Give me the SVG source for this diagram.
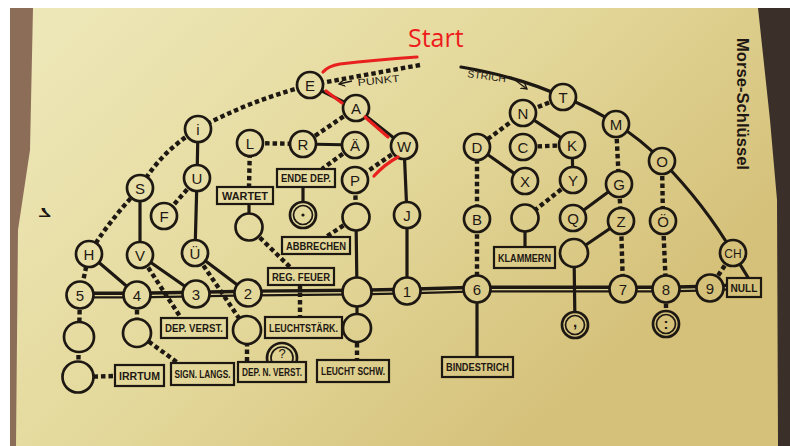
<svg xmlns="http://www.w3.org/2000/svg" width="790" height="446" viewBox="0 0 790 446">
<defs>
<linearGradient id="paper" gradientUnits="userSpaceOnUse" x1="100" y1="0" x2="520" y2="446">
<stop offset="0" stop-color="#ede6b6"/>
<stop offset="0.5" stop-color="#e4d99c"/>
<stop offset="1" stop-color="#d5c17a"/>
</linearGradient>
<marker id="arr" markerWidth="8" markerHeight="8" refX="6" refY="4" orient="auto" markerUnits="userSpaceOnUse">
<path d="M0,0.5 L6,4 L0,7.5" fill="none" stroke="#1e1813" stroke-width="1.3"/>
</marker>
</defs>
<style>
.sol{stroke:#1e1813;stroke-width:3.2;fill:none;stroke-linecap:round}
.dot{stroke:#1e1813;stroke-width:4.4;stroke-dasharray:4.5 3;fill:none}
.nd circle{fill:url(#paper);stroke:#1e1813;stroke-width:2.7}
.nd circle.in{stroke-width:1.7}
.nd text{font-family:"Liberation Sans",Arial,sans-serif;font-size:15px;fill:#1e1813;text-anchor:middle}
.bx rect{fill:url(#paper);stroke:#1e1813;stroke-width:2.2}
.bx text{font-family:"Liberation Sans",Arial,sans-serif;font-size:10.5px;font-weight:bold;fill:#1e1813;text-anchor:middle}
.lab{font-family:"Liberation Sans",Arial,sans-serif;fill:#1e1813}
.red{stroke:#e8201e;stroke-width:3.2;fill:none;stroke-linecap:round}
</style>

<!-- photo background -->
<rect x="0" y="0" width="790" height="446" fill="#ffffff"/>
<polygon points="10,8 40,8 24,446 10,446" fill="#8c6d57"/>
<polygon points="750,8 790,8 790,446 770,446" fill="#3a3029"/>
<polygon points="33,8 758,8 770,120 777,200 778,446 16,446 18,230 30,150" fill="url(#paper)"/>

<!-- annotations -->
<text class="lab" transform="translate(737,38) rotate(90)" font-size="16.5" font-weight="bold" textLength="132" lengthAdjust="spacingAndGlyphs">Morse-Schlüssel</text>
<text class="lab" transform="translate(38,208) scale(1.6,-0.9)" font-size="15" font-weight="bold">7</text>
<text class="lab" transform="translate(358,86) rotate(-6)" font-size="10" textLength="42" lengthAdjust="spacingAndGlyphs">PUNKT</text>
<path d="M352,81 L339,84" stroke="#1e1813" stroke-width="1.3" fill="none" marker-end="url(#arr)"/>
<text class="lab" transform="translate(467,77) rotate(8)" font-size="10" textLength="39" lengthAdjust="spacingAndGlyphs">STRICH</text>
<path d="M511,77 L527,89" stroke="#1e1813" stroke-width="1.3" fill="none" marker-end="url(#arr)"/>

<!-- connectors -->
<g id="connectors">
<!-- main double line -->
<path d="M80,295 L137,295 L196,294 L248,293 L357,292 L407,291 L477,289 L623,289 L666,289 L710,288 L728,287" stroke="#1e1813" stroke-width="7" fill="none"/>
<path d="M80,295.6 L137,295.6 L196,294.6 L248,293.6 L357,292.6 L407,291.6 L477,289.6 L623,289.6 L666,289.6 L710,288.6 L728,287.6" stroke="#e2d698" stroke-width="1.4" fill="none"/>
<!-- PUNKT arc -->
<path class="dot" d="M420,65 L310,85 Q245,102 198,129 Q160,152 140,188 Q108,222 89,254 L80,295"/>
<!-- STRICH arc -->
<path class="sol" d="M461,67 Q520,77 563,97 Q592,108 616,124 Q642,140 662,161 Q705,205 733,253 L749,279"/>
<!-- solid -->
<path class="sol" d="M310,85 L356,108 L404,146 L407,215 L407,291"/>
<path class="sol" d="M303,144 L355,145"/>
<path class="sol" d="M198,129 L197,178 L195,253 L248,293"/>
<path class="sol" d="M140,188 L140,255 L196,294"/>
<path class="sol" d="M89,254 L137,295"/>
<path class="sol" d="M303,187 L303,215"/>
<path class="sol" d="M249,204 L249,227"/>
<path class="sol" d="M356,217 L357,292 L357,328"/>
<path class="sol" d="M523,113 L572,145 L573,180"/>
<path class="sol" d="M477,147 L525,181"/>
<path class="sol" d="M477,289 L477,357"/>
<path class="sol" d="M525,218 L525,247"/>
<path class="sol" d="M619,184 L573,218"/>
<path class="sol" d="M621,221 L574,253 L575,325"/>
<!-- dotted -->
<path class="dot" d="M356,108 L303,144 L250,143 L249,187"/>
<path class="dot" d="M355,145 L322,169"/>
<path class="dot" d="M404,146 L355,180 L356,217"/>
<path class="dot" d="M356,217 L326,237"/>
<path class="dot" d="M249,227 L293,270"/>
<path class="dot" d="M300,285 L300,317"/>
<path class="dot" d="M197,178 L164,216"/>
<path class="dot" d="M140,255 L181,318"/>
<path class="dot" d="M195,253 L247,330 L247,362"/>
<path class="dot" d="M357,328 L357,360"/>
<path class="dot" d="M137,295 L137,333 L178,363"/>
<path class="dot" d="M80,295 L79,337 L78,377 L115,376"/>
<path class="dot" d="M563,97 L523,113 L477,147 L477,219 L477,289"/>
<path class="dot" d="M572,145 L523,147"/>
<path class="dot" d="M573,180 L525,218"/>
<path class="dot" d="M616,124 L619,184 L621,221 L623,289"/>
<path class="dot" d="M662,161 L663,221 L666,289 L666,324"/>
<path class="dot" d="M733,253 L710,288"/>
</g>

<!-- letter / number nodes -->
<g id="n-E" class="nd"><circle cx="310" cy="85" r="13"/><text x="310" y="90.5">E</text></g>
<g id="n-A" class="nd"><circle cx="356" cy="108" r="13"/><text x="356" y="113.5">A</text></g>
<g id="n-i" class="nd"><circle cx="198" cy="129" r="13"/><text x="198" y="134.5">i</text></g>
<g id="n-L" class="nd"><circle cx="250" cy="143" r="13"/><text x="250" y="148.5">L</text></g>
<g id="n-R" class="nd"><circle cx="303" cy="144" r="13"/><text x="303" y="149.5">R</text></g>
<g id="n-AE" class="nd"><circle cx="355" cy="145" r="13"/><text x="355" y="150.5">Ä</text></g>
<g id="n-W" class="nd"><circle cx="404" cy="146" r="13"/><text x="404" y="151.5">W</text></g>
<g id="n-P" class="nd"><circle cx="355" cy="180" r="13"/><text x="355" y="185.5">P</text></g>
<g id="n-U" class="nd"><circle cx="197" cy="178" r="13"/><text x="197" y="183.5">U</text></g>
<g id="n-S" class="nd"><circle cx="140" cy="188" r="13"/><text x="140" y="193.5">S</text></g>
<g id="n-F" class="nd"><circle cx="164" cy="216" r="13"/><text x="164" y="221.5">F</text></g>
<g id="n-J" class="nd"><circle cx="407" cy="215" r="13"/><text x="407" y="220.5">J</text></g>
<g id="n-H" class="nd"><circle cx="89" cy="254" r="13"/><text x="89" y="259.5">H</text></g>
<g id="n-V" class="nd"><circle cx="140" cy="255" r="13"/><text x="140" y="260.5">V</text></g>
<g id="n-UE" class="nd"><circle cx="195" cy="253" r="13"/><text x="195" y="258.5">Ü</text></g>
<g id="n-5" class="nd"><circle cx="80" cy="295" r="13.5"/><text x="80" y="300.5">5</text></g>
<g id="n-4" class="nd"><circle cx="137" cy="295" r="13.5"/><text x="137" y="300.5">4</text></g>
<g id="n-3" class="nd"><circle cx="196" cy="294" r="13.5"/><text x="196" y="299.5">3</text></g>
<g id="n-2" class="nd"><circle cx="248" cy="293" r="13.5"/><text x="248" y="298.5">2</text></g>
<g id="n-big" class="nd"><circle cx="357" cy="292" r="14.5"/></g>
<g id="n-1" class="nd"><circle cx="407" cy="291" r="13.5"/><text x="407" y="296.5">1</text></g>
<g id="n-wartet" class="nd"><circle cx="249" cy="227" r="13.5"/></g>
<g id="n-abbr" class="nd"><circle cx="356" cy="217" r="13.5"/></g>
<g id="n-dot" class="nd"><circle cx="303" cy="215" r="13"/><circle class="in" cx="303" cy="215" r="9.5"/><circle cx="303" cy="215" r="1.6" style="fill:#1e1813;stroke:none"/></g>
<g id="n-e2" class="nd"><circle cx="247" cy="330" r="14"/></g>
<g id="n-e3" class="nd"><circle cx="357" cy="328" r="14"/></g>
<g id="n-e4" class="nd"><circle cx="137" cy="333" r="14"/></g>
<g id="n-e5a" class="nd"><circle cx="79" cy="337" r="15"/></g>
<g id="n-e5b" class="nd"><circle cx="78" cy="377" r="15.5"/></g>
<g id="n-T" class="nd"><circle cx="563" cy="97" r="13"/><text x="563" y="102.5">T</text></g>
<g id="n-N" class="nd"><circle cx="523" cy="113" r="13"/><text x="523" y="118.5">N</text></g>
<g id="n-M" class="nd"><circle cx="616" cy="124" r="13"/><text x="616" y="129.5">M</text></g>
<g id="n-D" class="nd"><circle cx="477" cy="147" r="13"/><text x="477" y="152.5">D</text></g>
<g id="n-C" class="nd"><circle cx="523" cy="147" r="13"/><text x="523" y="152.5">C</text></g>
<g id="n-K" class="nd"><circle cx="572" cy="145" r="13"/><text x="572" y="150.5">K</text></g>
<g id="n-O" class="nd"><circle cx="662" cy="161" r="13"/><text x="662" y="166.5">O</text></g>
<g id="n-X" class="nd"><circle cx="525" cy="181" r="13"/><text x="525" y="186.5">X</text></g>
<g id="n-Y" class="nd"><circle cx="573" cy="180" r="13"/><text x="573" y="185.5">Y</text></g>
<g id="n-G" class="nd"><circle cx="619" cy="184" r="13"/><text x="619" y="189.5">G</text></g>
<g id="n-B" class="nd"><circle cx="477" cy="219" r="13"/><text x="477" y="224.5">B</text></g>
<g id="n-klam" class="nd"><circle cx="525" cy="218" r="13.5"/></g>
<g id="n-Q" class="nd"><circle cx="573" cy="218" r="13"/><text x="573" y="223.5">Q</text></g>
<g id="n-Z" class="nd"><circle cx="621" cy="221" r="13"/><text x="621" y="226.5">Z</text></g>
<g id="n-OE" class="nd"><circle cx="663" cy="221" r="13"/><text x="663" y="226.5">Ö</text></g>
<g id="n-ecomma" class="nd"><circle cx="574" cy="253" r="14"/></g>
<g id="n-CH" class="nd"><circle cx="733" cy="253" r="13"/><text x="733" y="257.5" style="font-size:12px">CH</text></g>
<g id="n-6" class="nd"><circle cx="477" cy="289" r="13.5"/><text x="477" y="294.5">6</text></g>
<g id="n-7" class="nd"><circle cx="623" cy="289" r="13.5"/><text x="623" y="294.5">7</text></g>
<g id="n-8" class="nd"><circle cx="666" cy="289" r="13.5"/><text x="666" y="294.5">8</text></g>
<g id="n-9" class="nd"><circle cx="710" cy="288" r="13.5"/><text x="710" y="293.5">9</text></g>
<g id="n-comma" class="nd"><circle cx="575" cy="325" r="13"/><circle class="in" cx="575" cy="325" r="9.5"/><text x="575" y="327" style="font-weight:bold">,</text></g>
<g id="n-colon" class="nd"><circle cx="666" cy="324" r="13"/><circle class="in" cx="666" cy="324" r="9.5"/><text x="666" y="329" style="font-weight:bold">:</text></g>
<g id="n-q" class="nd"><circle cx="282" cy="358" r="15"/><circle class="in" cx="282" cy="358" r="11"/><text x="282" y="358" style="font-size:13px">?</text></g>

<!-- label boxes -->
<g id="b-wartet" class="bx"><rect x="217" y="187" width="56" height="17"/><text x="245" y="199.5" textLength="46" lengthAdjust="spacingAndGlyphs">WARTET</text></g>
<g id="b-endedep" class="bx"><rect x="277" y="169" width="58" height="18"/><text x="306" y="182" textLength="50" lengthAdjust="spacingAndGlyphs">ENDE DEP.</text></g>
<g id="b-abbrechen" class="bx"><rect x="282" y="237" width="68" height="17"/><text x="316" y="249.5" textLength="60" lengthAdjust="spacingAndGlyphs">ABBRECHEN</text></g>
<g id="b-regfeuer" class="bx"><rect x="268" y="268" width="66" height="17"/><text x="301" y="280.5" textLength="58" lengthAdjust="spacingAndGlyphs">REG. FEUER</text></g>
<g id="b-depverst" class="bx"><rect x="161" y="318" width="66" height="20"/><text x="194" y="332" textLength="58" lengthAdjust="spacingAndGlyphs">DEP. VERST.</text></g>
<g id="b-leuchtstaerk" class="bx"><rect x="265" y="317" width="77" height="21"/><text x="303.5" y="331.5" textLength="69" lengthAdjust="spacingAndGlyphs">LEUCHTSTÄRK.</text></g>
<g id="b-irrtum" class="bx"><rect x="115" y="365" width="49" height="21"/><text x="139.5" y="379.5" textLength="41" lengthAdjust="spacingAndGlyphs">IRRTUM</text></g>
<g id="b-signlangs" class="bx"><rect x="171" y="363" width="63" height="22"/><text x="202.5" y="378" textLength="56" lengthAdjust="spacingAndGlyphs">SIGN. LANGS.</text></g>
<g id="b-depnverst" class="bx"><rect x="238" y="362" width="68" height="20"/><text x="272" y="376" textLength="60" lengthAdjust="spacingAndGlyphs">DEP. N. VERST.</text></g>
<g id="b-leuchtschw" class="bx"><rect x="317" y="360" width="72" height="22"/><text x="353" y="375" textLength="64" lengthAdjust="spacingAndGlyphs">LEUCHT SCHW.</text></g>
<g id="b-klammern" class="bx"><rect x="494" y="247" width="61" height="21"/><text x="524.5" y="261.5" textLength="53" lengthAdjust="spacingAndGlyphs">KLAMMERN</text></g>
<g id="b-bindestrich" class="bx"><rect x="442" y="357" width="71" height="20"/><text x="477.5" y="371" textLength="63" lengthAdjust="spacingAndGlyphs">BINDESTRICH</text></g>
<g id="b-null" class="bx"><rect x="727" y="278" width="34" height="19"/><text x="744" y="291.5" textLength="27" lengthAdjust="spacingAndGlyphs">NULL</text></g>

<!-- red "Start" annotation -->
<g id="start">
<text x="408" y="47" font-family="'Open Sans','Liberation Sans',Arial,sans-serif" font-size="25" fill="#ee1c1c">Start</text>
<path class="red" d="M323,72 Q328,66 340,64 Q375,60 417,57"/>
<path class="red" d="M326,91 L342,103"/>
<path class="red" d="M365,117 L388,137"/>
<path class="red" d="M398,157 Q385,164 374,176"/>
</g>
</svg>
